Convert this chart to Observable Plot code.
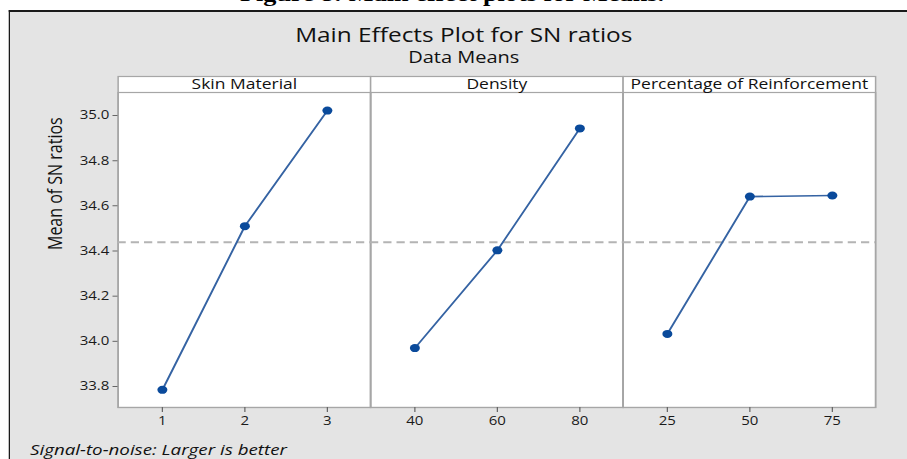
<!DOCTYPE html>
<html>
<head>
<meta charset="utf-8">
<script src="https://cdn.jsdelivr.net/npm/d3@7"></script>
<script src="https://cdn.jsdelivr.net/npm/@observablehq/plot@0.6"></script>
<style>
  html, body { margin: 0; padding: 0; background: #ffffff; overflow: hidden; }
  #stage { position: relative; height: 459px; transform-origin: 0 0; font-family: "Open Sans", sans-serif; }
  #topcap { position: absolute; left: 0; top: 0; height: 10px; overflow: hidden; width: 100%; }
  #topcap span { position: absolute; left: 192px; top: -16px; font-family: "Liberation Serif", "Times New Roman", serif; font-weight: bold; font-size: 21px; line-height: 21px; white-space: nowrap; color: #000; }
  #panel { position: absolute; left: 7px; top: 10px; right: 0; bottom: 0; background: #e4e4e4; border-top: 2px solid #1a1a1a; border-left: 1.8px solid #1a1a1a; }
  #title { position: absolute; left: 0; width: 742px; top: 25px; text-align: center; font-size: 19.5px; line-height: 20px; color: #111; white-space: nowrap; }
  #subtitle { position: absolute; left: 0; width: 742px; top: 49px; text-align: center; font-size: 16px; line-height: 16px; color: #111; white-space: nowrap; }
  #chart { position: absolute; left: 0; top: 70px; }
  #caption { position: absolute; left: 24px; top: 441px; font-size: 15px; line-height: 16px; font-style: italic; color: #111; white-space: nowrap; }
</style>
</head>
<body>
<div id="stage">
  <div id="topcap"><span>Figure 8: Main effect plots for Means.</span></div>
  <div id="panel"></div>
  <div id="title">Main Effects Plot for SN ratios</div>
  <div id="subtitle">Data Means</div>
  <div id="chart"></div>
  <div id="caption">Signal-to-noise: Larger is better</div>
</div>
<script>
// ---- data ----
const factors = ["Skin Material", "Density", "Percentage of Reinforcement"];
const skinLevels = ["1", "2", "3"];
const skinMeans = [33.785, 34.51, 35.022];
const densityLevels = ["40", "60", "80"];
const densityMeans = [33.97, 34.403, 34.943];
const reinfLevels = ["25", "50", "75"];
const reinfMeans = [34.033, 34.641, 34.646];
const yTicks = [33.8, 34.0, 34.2, 34.4, 34.6, 34.8, 35.0];
const yDomain = [33.707, 35.102];
const yLabel = "Mean of SN ratios";

// ---- layout (design px are real px / S horizontally) ----
const S = 1.25;
const W = 907 / S;
const stage = document.getElementById("stage");
stage.style.width = W + "px";
stage.style.transform = `scaleX(${S})`;

const levelSets = [skinLevels, densityLevels, reinfLevels];
const meanSets = [skinMeans, densityMeans, reinfMeans];
const rows = [];
factors.forEach((f, k) => {
  levelSets[k].forEach((lv, i) => rows.push({factor: f, i, level: lv, mean: meanSets[k][i]}));
});
const grandMean = d3.mean(rows, d => d.mean);

const left = 117 / S, right = 876 / S;
const chart = Plot.plot({
  width: W,
  height: 365,
  marginTop: 22,
  marginBottom: 28,
  marginLeft: left,
  marginRight: W - right,
  style: {background: "transparent", fontFamily: "Open Sans, sans-serif", fontSize: "12px", color: "#1a1a1a"},
  fx: {domain: factors, padding: 0, axis: null},
  x: {type: "point", domain: [0, 1, 2], padding: 0.52, axis: null},
  y: {domain: yDomain},
  marks: [
    Plot.frame({fill: "white", stroke: "#a6a6a6", strokeWidth: 1.2, insetTop: -16}),
    Plot.frame({stroke: "#a6a6a6", strokeWidth: 1.2}),
    Plot.text(factors, {fx: d => d, text: d => d, frameAnchor: "top", lineAnchor: "middle", dy: -8, fontSize: 14, fill: "#111"}),
    Plot.ruleY([grandMean], {stroke: "#b4b4b4", strokeWidth: 2, strokeDasharray: "6.6,4"}),
    Plot.line(rows, {fx: "factor", x: "i", y: "mean", stroke: "#3563a3", strokeWidth: 1.6}),
    Plot.dot(rows, {fx: "factor", x: "i", y: "mean", r: 4, fill: "#0a4a9b", stroke: "none"}),
    Plot.ruleX(rows, {fx: "factor", x: "i", y1: () => yDomain[0], y2: () => yDomain[0], insetBottom: -5, stroke: "#666"}),
    Plot.text(rows, {fx: "factor", x: "i", text: "level", frameAnchor: "bottom", lineAnchor: "middle", dy: 14, fontSize: 12, fill: "#1a1a1a"}),
    Plot.axisY({ticks: yTicks, tickFormat: d => d.toFixed(1), tickSize: 4, tickPadding: 3, label: null, fontSize: 12, stroke: "#666", fill: "#1a1a1a"}),
    Plot.text([factors[0]], {fx: d => d, text: () => yLabel, frameAnchor: "left", lineAnchor: "middle", rotate: -90, dx: -50, fontSize: 16, fill: "#111"})
  ]
});
document.getElementById("chart").appendChild(chart);
</script>
</body>
</html>
